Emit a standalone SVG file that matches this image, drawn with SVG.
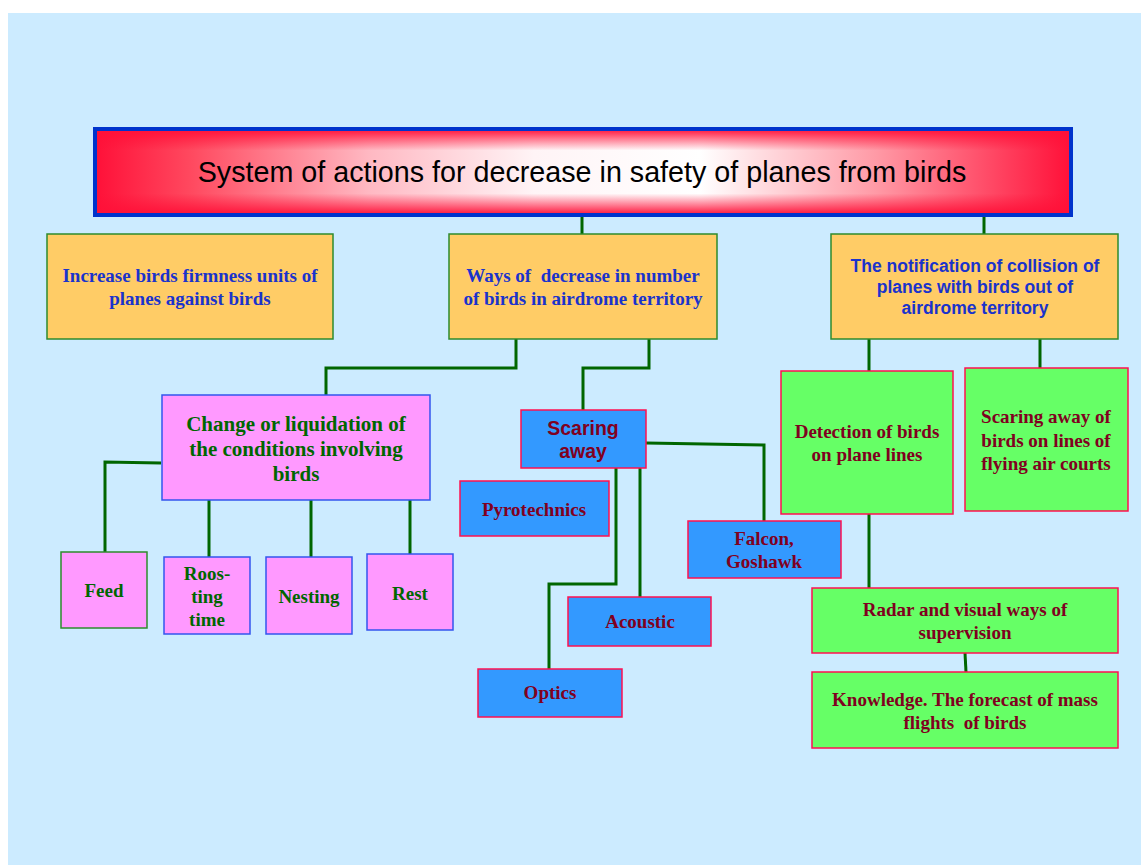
<svg xmlns="http://www.w3.org/2000/svg" width="1141" height="865" viewBox="0 0 1141 865">
  <defs>
    <linearGradient id="titleH" x1="0" y1="0" x2="1" y2="0">
      <stop offset="0" stop-color="#FF1038"/>
      <stop offset="0.1" stop-color="#FF4A60"/>
      <stop offset="0.28" stop-color="#FFB8C2"/>
      <stop offset="0.45" stop-color="#FFF4F6"/>
      <stop offset="0.62" stop-color="#FFFFFF"/>
      <stop offset="0.8" stop-color="#FF9AA6"/>
      <stop offset="1" stop-color="#FF1038"/>
    </linearGradient>
    <linearGradient id="titleV" x1="0" y1="0" x2="0" y2="1">
      <stop offset="0" stop-color="#FF1038" stop-opacity="1"/>
      <stop offset="0.25" stop-color="#FF1038" stop-opacity="0"/>
      <stop offset="0.75" stop-color="#FF1038" stop-opacity="0"/>
      <stop offset="1" stop-color="#FF1038" stop-opacity="1"/>
    </linearGradient>
    <style>
      .orange { fill: #FFCC66; stroke: #2E8B2E; stroke-width: 1.5; }
      .pink { fill: #FF99FF; stroke: #3355EE; stroke-width: 1.5; }
      .pinkg { fill: #FF99FF; stroke: #2E8B2E; stroke-width: 1.5; }
      .blue { fill: #3399FF; stroke: #FF1050; stroke-width: 1.5; }
      .green { fill: #66FF66; stroke: #FF1050; stroke-width: 1.5; }
      .serif { font-family: "Liberation Serif", "Times New Roman", serif; font-weight: bold; font-size: 19px; text-anchor: middle; white-space: pre; }
      .sans { font-family: "Liberation Sans", Arial, sans-serif; font-weight: bold; font-size: 17.5px; text-anchor: middle; }
      .big { font-size: 21px; }
      .mid { font-size: 19.5px; }
      .tblue { fill: #1A33CC; }
      .tgreen { fill: #006600; }
      .tred { fill: #800020; }
      .links path { fill: none; stroke: #006600; stroke-width: 3; }
    </style>
  </defs>

  <!-- page -->
  <rect x="0" y="0" width="1141" height="865" fill="#FFFFFF"/>
  <rect x="8" y="13" width="1133" height="852" fill="#CCEBFF"/>

  <!-- connectors -->
  <g class="links">
    <path d="M582 217 V234"/>
    <path d="M984 217 V234"/>
    <path d="M516 339 V368 H326 V395"/>
    <path d="M649 339 V368 H583 V410"/>
    <path d="M869 339 V371"/>
    <path d="M1040 339 V368"/>
    <path d="M161 463 L105 462 V552"/>
    <path d="M209 500 V561"/>
    <path d="M311 500 V557"/>
    <path d="M410 500 V554"/>
    <path d="M646 443 L764 445 V521"/>
    <path d="M616 468 V584 H549 V669"/>
    <path d="M640 468 V597"/>
    <path d="M869 512 V588"/>
    <path d="M965 653 L966 672"/>
  </g>

  <!-- title -->
  <g id="title">
    <rect x="95" y="129" width="976" height="86" fill="url(#titleH)"/>
    <rect x="95" y="129" width="976" height="86" fill="url(#titleV)"/>
    <rect x="95" y="129" width="976" height="86" fill="none" stroke="#0033CC" stroke-width="4"/>
    <text x="582" y="182" font-family="Liberation Sans, Arial, sans-serif" font-size="28.7" text-anchor="middle" fill="#000000">System of actions for decrease in safety of planes from birds</text>
  </g>

  <!-- second level -->
  <g id="firmness">
    <rect class="orange" x="47" y="234" width="286" height="105"/>
    <text class="serif tblue" x="190" y="282">Increase birds firmness units of</text>
    <text class="serif tblue" x="190" y="305">planes against birds</text>
  </g>
  <g id="decrease">
    <rect class="orange" x="449" y="234" width="268" height="105"/>
    <text class="serif tblue" x="583" y="282">Ways of  decrease in number</text>
    <text class="serif tblue" x="583" y="305">of birds in airdrome territory</text>
  </g>
  <g id="notification">
    <rect class="orange" x="831" y="234" width="287" height="105"/>
    <text class="sans tblue" x="975" y="272">The notification of collision of</text>
    <text class="sans tblue" x="975" y="293">planes with birds out of</text>
    <text class="sans tblue" x="975" y="314">airdrome territory</text>
  </g>

  <!-- conditions branch -->
  <g id="conditions">
    <rect class="pink" x="162" y="395" width="268" height="105"/>
    <text class="serif big tgreen" x="296" y="431">Change or liquidation of</text>
    <text class="serif big tgreen" x="296" y="456">the conditions involving</text>
    <text class="serif big tgreen" x="296" y="481">birds</text>
  </g>
  <g id="feed">
    <rect class="pinkg" x="61" y="552" width="86" height="76"/>
    <text class="serif tgreen" x="104" y="597">Feed</text>
  </g>
  <g id="roosting">
    <rect class="pink" x="164" y="557" width="86" height="77"/>
    <text class="serif tgreen" x="207" y="580">Roos-</text>
    <text class="serif tgreen" x="207" y="603">ting</text>
    <text class="serif tgreen" x="207" y="626">time</text>
  </g>
  <g id="nesting">
    <rect class="pink" x="266" y="557" width="86" height="77"/>
    <text class="serif tgreen" x="309" y="603">Nesting</text>
  </g>
  <g id="rest">
    <rect class="pink" x="367" y="554" width="86" height="76"/>
    <text class="serif tgreen" x="410" y="600">Rest</text>
  </g>

  <!-- scaring branch -->
  <g id="scaring">
    <rect class="blue" x="521" y="410" width="125" height="58"/>
    <text class="sans mid tred" x="583" y="435">Scaring</text>
    <text class="sans mid tred" x="583" y="458">away</text>
  </g>
  <g id="pyrotechnics">
    <rect class="blue" x="460" y="481" width="149" height="55"/>
    <text class="serif tred" x="534" y="516">Pyrotechnics</text>
  </g>
  <g id="falcon">
    <rect class="blue" x="688" y="521" width="153" height="57"/>
    <text class="serif tred" x="764" y="545">Falcon,</text>
    <text class="serif tred" x="764" y="568">Goshawk</text>
  </g>
  <g id="acoustic">
    <rect class="blue" x="568" y="597" width="143" height="49"/>
    <text class="serif tred" x="640" y="628">Acoustic</text>
  </g>
  <g id="optics">
    <rect class="blue" x="478" y="669" width="144" height="48"/>
    <text class="serif tred" x="550" y="699">Optics</text>
  </g>

  <!-- notification branch -->
  <g id="detection">
    <rect class="green" x="781" y="371" width="172" height="143"/>
    <text class="serif tred" x="867" y="438">Detection of birds</text>
    <text class="serif tred" x="867" y="461">on plane lines</text>
  </g>
  <g id="air-courts">
    <rect class="green" x="965" y="368" width="163" height="143"/>
    <text class="serif tred" x="1046" y="423">Scaring away of</text>
    <text class="serif tred" x="1046" y="447">birds on lines of</text>
    <text class="serif tred" x="1046" y="470">flying air courts</text>
  </g>
  <g id="radar">
    <rect class="green" x="812" y="588" width="306" height="65"/>
    <text class="serif tred" x="965" y="616">Radar and visual ways of</text>
    <text class="serif tred" x="965" y="639">supervision</text>
  </g>
  <g id="knowledge">
    <rect class="green" x="812" y="672" width="306" height="76"/>
    <text class="serif tred" x="965" y="706">Knowledge. The forecast of mass</text>
    <text class="serif tred" x="965" y="729">flights  of birds</text>
  </g>
</svg>
